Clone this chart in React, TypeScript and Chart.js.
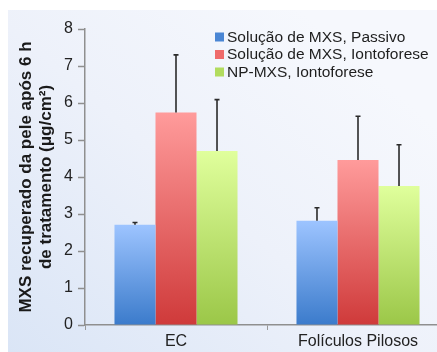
import React, { useEffect, useRef } from "react";
import { Chart, registerables } from "chart.js";
Chart.register(...registerables);

const categories = ["EC", "Folículos Pilosos"];
const seriesLabels = ["Solução de MXS, Passivo", "Solução de MXS, Iontoforese", "NP-MXS, Iontoforese"];
const passivoValues = [2.71, 2.82];
const passivoErrors = [0.06, 0.35];
const iontoValues = [5.74, 4.46];
const iontoErrors = [1.56, 1.18];
const npValues = [4.7, 3.76];
const npErrors = [1.39, 1.11];
const yMin = 0;
const yMax = 8;
const yStep = 1;
const yTitle = ["MXS recuperado da pele após 6 h", "de tratamento (μg/cm²)"];

const topColors = ["#9dc4ff", "#ff9b9b", "#e0ff9c"];
const bottomColors = ["#3b7bcb", "#cf3a3a", "#9bc748"];
const legendColors = ["#4a86d4", "#ef6b6b", "#b2dc5e"];
const errorSets = [passivoErrors, iontoErrors, npErrors];

function barGradient(idx: number) {
  return (ctx: any) => {
    const chart = ctx.chart;
    const y = chart.scales && chart.scales.y;
    if (!chart.chartArea || !y || ctx.raw == null) return topColors[idx];
    const top = y.getPixelForValue(ctx.raw);
    const bottom = y.getPixelForValue(0);
    const g = chart.ctx.createLinearGradient(0, top, 0, bottom);
    g.addColorStop(0, topColors[idx]);
    g.addColorStop(1, bottomColors[idx]);
    return g;
  };
}

const backgroundPlugin = {
  id: "panelBg",
  beforeDraw(chart: any) {
    const c = chart.ctx;
    const w = chart.width;
    const h = chart.height;
    c.save();
    c.fillStyle = "#ffffff";
    c.fillRect(0, 0, w, h);
    const g = c.createLinearGradient(8, h, 300, 10);
    g.addColorStop(0, "#dae5f6");
    g.addColorStop(0.55, "#edf1fa");
    g.addColorStop(1, "#f6f8fd");
    c.fillStyle = g;
    c.fillRect(8, 10, w - 8, h - 10);
    c.restore();
  },
};

const errorPlugin = {
  id: "errorBars",
  afterDatasetsDraw(chart: any) {
    const c = chart.ctx;
    const y = chart.scales.y;
    c.save();
    c.strokeStyle = "#2b2b2b";
    c.lineWidth = 1.6;
    chart.data.datasets.forEach((ds: any, di: number) => {
      const meta = chart.getDatasetMeta(di);
      meta.data.forEach((el: any, i: number) => {
        const v = ds.data[i];
        const e = errorSets[di][i];
        const yTop = y.getPixelForValue(v + e);
        const yBase = y.getPixelForValue(v);
        c.beginPath();
        c.moveTo(el.x, yBase);
        c.lineTo(el.x, yTop);
        c.moveTo(el.x - 2.5, yTop);
        c.lineTo(el.x + 2.5, yTop);
        c.stroke();
      });
    });
    c.restore();
  },
};

const legendPlugin = {
  id: "insideLegend",
  afterDraw(chart: any) {
    const c = chart.ctx;
    c.save();
    c.font = "15.5px 'Liberation Sans', Arial, sans-serif";
    c.textBaseline = "middle";
    c.textAlign = "left";
    chart.data.datasets.forEach((ds: any, i: number) => {
      const yy = 37 + i * 17.5;
      c.fillStyle = legendColors[i];
      c.fillRect(215, yy - 4.5, 9, 9);
      c.fillStyle = "#1e1e1e";
      c.fillText(ds.label, 227, yy + 0.5);
    });
    c.restore();
  },
};

export default function App() {
  const ref = useRef<HTMLCanvasElement | null>(null);
  useEffect(() => {
    if (!ref.current) return;
    const chart = new Chart(ref.current, {
      type: "bar",
      data: {
        labels: categories,
        datasets: [
          { label: seriesLabels[0], data: passivoValues, backgroundColor: barGradient(0) },
          { label: seriesLabels[1], data: iontoValues, backgroundColor: barGradient(1) },
          { label: seriesLabels[2], data: npValues, backgroundColor: barGradient(2) },
        ],
      },
      options: {
        animation: false,
        responsive: false,
        devicePixelRatio: 1,
        layout: { padding: { top: 29, right: 3, bottom: 0, left: 0 } },
        datasets: { bar: { categoryPercentage: 0.676, barPercentage: 1, borderWidth: 0 } },
        plugins: { legend: { display: false }, tooltip: { enabled: false } },
        scales: {
          x: {
            afterFit(scale: any) {
              scale.height = 27;
            },
            grid: { display: true, drawOnChartArea: false, offset: true, tickLength: 5, color: "#999", tickWidth: 1 },
            border: { display: true, color: "#8f8f8f", width: 1.5 },
            ticks: { color: "#222", font: { size: 16, family: "'Liberation Sans', Arial, sans-serif" }, padding: 2 },
          },
          y: {
            min: yMin,
            max: yMax,
            afterFit(scale: any) {
              scale.width = 85;
            },
            grid: { display: true, drawOnChartArea: false, tickLength: 7, color: "#8f8f8f", tickWidth: 1.5 },
            border: { display: true, color: "#8f8f8f", width: 1.5 },
            ticks: {
              stepSize: yStep,
              color: "#222",
              padding: 5,
              font: { size: 16, family: "'Liberation Sans', Arial, sans-serif" },
            },
            title: {
              display: true,
              text: yTitle,
              color: "#1a1a1a",
              font: { size: 17, weight: "bold", family: "'Liberation Sans', Arial, sans-serif", lineHeight: 1.15 },
              padding: { top: 17, bottom: 0 },
            },
          },
        },
      },
      plugins: [backgroundPlugin, errorPlugin, legendPlugin],
    } as any);
    return () => chart.destroy();
  }, []);
  return (
    <div style={{ position: "fixed", left: 0, top: 0, width: 437, height: 352, overflow: "hidden", background: "#fff" }}>
      <canvas ref={ref} width={452} height={352} style={{ display: "block", width: 452, height: 352 }} />
    </div>
  );
}
